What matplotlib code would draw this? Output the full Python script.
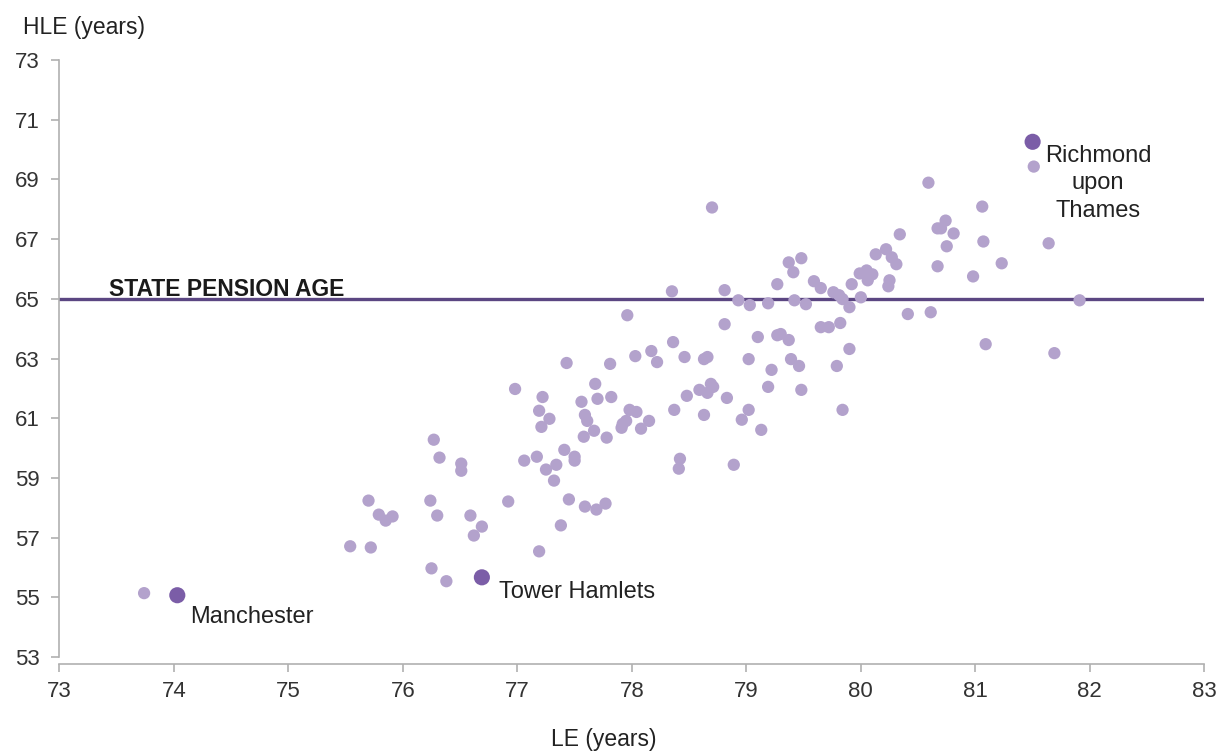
import matplotlib.pyplot as plt

plt.rcParams['font.family'] = ['Liberation Sans', 'DejaVu Sans']

# Life expectancy (LE) and healthy life expectancy (HLE), years
le = [73.74, 75.54, 75.72, 75.70, 75.79, 75.85, 75.91, 76.24, 76.25, 76.27,
      76.32, 76.30, 76.38, 76.51, 76.51, 76.59, 76.62, 76.69, 76.98, 77.43,
      77.81, 78.03, 78.17, 78.22, 78.36, 78.46, 78.63, 78.66, 79.02, 79.10,
      79.22, 79.19, 77.22, 77.19, 77.28, 77.21, 77.68, 77.56, 77.70, 77.82,
      77.59, 77.61, 77.67, 77.58, 77.78, 77.98, 78.04, 77.92, 77.91, 77.95,
      78.08, 78.15, 78.37, 78.48, 78.59, 78.66, 78.69, 78.71, 78.63, 78.83,
      79.02, 78.96, 79.13, 78.42, 78.41, 78.89, 77.06, 77.17, 77.25, 77.34,
      77.32, 77.41, 77.50, 77.50, 76.92, 77.45, 77.59, 77.69, 77.77, 77.38,
      77.19, 78.81, 78.70, 78.35, 78.81, 78.93, 79.03, 79.19, 79.27, 77.96,
      79.27, 80.59, 81.06, 80.67, 80.70, 80.74, 80.81, 80.34, 80.75, 81.07,
      81.64, 80.22, 80.13, 80.27, 80.31, 80.67, 81.23, 80.98, 79.37, 79.41,
      79.48, 79.59, 79.65, 79.76, 79.81, 79.84, 79.92, 79.99, 80.05, 80.10,
      80.06, 80.25, 80.24, 80.00, 79.90, 79.42, 79.52, 80.41, 80.61, 79.82,
      79.65, 79.72, 79.30, 79.37, 79.90, 79.39, 79.46, 79.79, 81.09, 81.69,
      79.48, 79.84, 81.51, 81.91]
hle = [55.14, 56.71, 56.67, 58.24, 57.77, 57.57, 57.71, 58.24, 55.97, 60.28,
       59.68, 57.74, 55.54, 59.48, 59.24, 57.74, 57.07, 57.37, 61.98, 62.85,
       62.82, 63.08, 63.25, 62.88, 63.55, 63.05, 62.98, 63.05, 62.98, 63.72,
       62.62, 62.05, 61.71, 61.25, 60.98, 60.71, 62.15, 61.55, 61.65, 61.71,
       61.11, 60.91, 60.58, 60.38, 60.35, 61.28, 61.21, 60.81, 60.68, 60.91,
       60.65, 60.91, 61.28, 61.75, 61.95, 61.85, 62.15, 62.05, 61.11, 61.68,
       61.28, 60.95, 60.61, 59.64, 59.31, 59.44, 59.58, 59.71, 59.28, 59.44,
       58.91, 59.94, 59.71, 59.58, 58.21, 58.28, 58.04, 57.94, 58.14, 57.41,
       56.54, 64.15, 68.06, 65.25, 65.29, 64.95, 64.79, 64.85, 65.49, 64.45,
       63.78, 68.89, 68.09, 67.36, 67.36, 67.62, 67.19, 67.16, 66.76, 66.92,
       66.86, 66.66, 66.49, 66.39, 66.16, 66.09, 66.19, 65.75, 66.22, 65.89,
       66.36, 65.59, 65.36, 65.22, 65.12, 64.99, 65.49, 65.85, 65.95, 65.82,
       65.62, 65.62, 65.42, 65.05, 64.72, 64.95, 64.82, 64.49, 64.55, 64.19,
       64.05, 64.05, 63.82, 63.62, 63.32, 62.98, 62.75, 62.75, 63.48, 63.18,
       61.95, 61.28, 69.43, 64.95]

# highlighted local authorities
hl_names = ['Manchester', 'Tower Hamlets', 'Richmond\nupon\nThames']
hl_le = [74.03, 76.69, 81.50]
hl_hle = [55.07, 55.67, 70.26]

pension_age = 65

fig = plt.figure(figsize=(12.19, 7.52), dpi=100)
ax = fig.add_axes([0.0487, 0.1263, 0.9393, 0.7939])

ax.scatter(le, hle, s=78, color='#b3a2cc', edgecolors='none', zorder=3)
ax.scatter(hl_le, hl_hle, s=135, color='#7b5da7', edgecolors='none', zorder=4)
ax.axhline(pension_age, color='#5b4682', lw=2.4, zorder=2)

ax.text(73.43, pension_age + 0.1, 'STATE PENSION AGE', fontsize=16.5,
        fontweight='bold', color='#1a1a1a', va='baseline', ha='left')

# labels for highlighted points
ax.text(hl_le[0] + 0.11, hl_hle[0] - 0.35, hl_names[0], fontsize=17,
        color='#222222', va='top', ha='left')
ax.text(hl_le[1] + 0.15, hl_hle[1] - 0.5, hl_names[1], fontsize=17,
        color='#222222', va='center', ha='left')
ax.text(hl_le[2] + 0.57, hl_hle[2] - 0.12, hl_names[2], fontsize=17,
        color='#222222', va='top', ha='center', linespacing=1.3)

ax.set_xlim(73, 83)
ax.set_ylim(53, 73)
ax.set_xticks(range(73, 84))
ax.set_yticks(range(53, 74, 2))

for s in ['top', 'right']:
    ax.spines[s].set_visible(False)
for s in ['left', 'bottom']:
    ax.spines[s].set_color('#b0b0b0')
    ax.spines[s].set_linewidth(1.2)
ax.spines['bottom'].set_position(('outward', 5))
ax.tick_params(colors='#b0b0b0', labelcolor='#333333', labelsize=16,
               length=6, width=1.2, direction='out')
ax.tick_params(axis='x', pad=6)
ax.tick_params(axis='y', pad=8)

fig.text(0.019, 0.963, 'HLE (years)', fontsize=16.5, color='#222222',
         ha='left', va='center')
fig.text(0.495, 0.016, 'LE (years)', fontsize=16.5, color='#222222',
         ha='center', va='center')

fig.savefig('out.png', dpi=100)
